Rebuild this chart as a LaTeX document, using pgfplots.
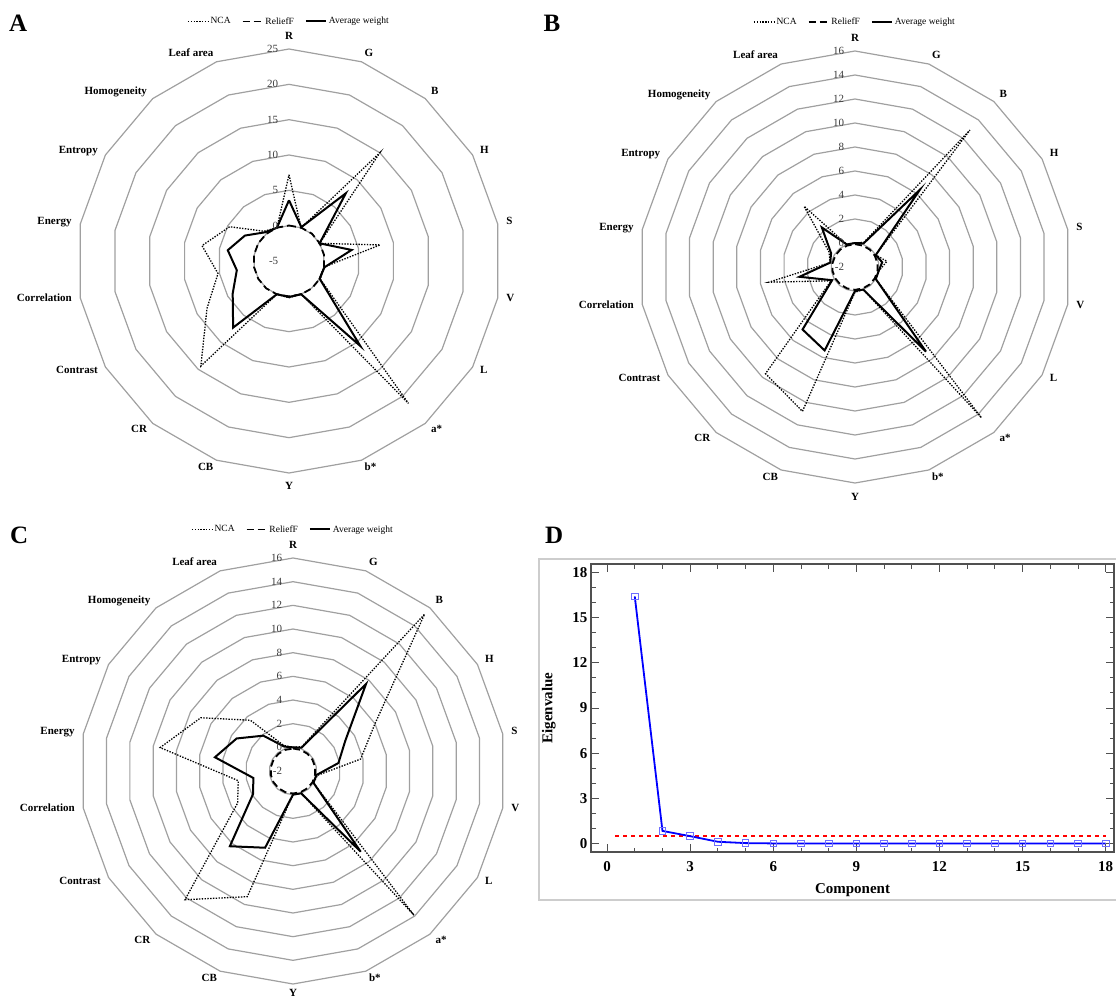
\documentclass[border=0pt]{standalone}
\usepackage{fontspec}
\setmainfont{Liberation Serif}
\usepackage{pgfplots}
\usepackage{pgfplotstable}
\pgfplotsset{compat=1.18}

\definecolor{ringgray}{RGB}{160,160,160}
\definecolor{tickgray}{RGB}{60,60,60}
\definecolor{framegray}{RGB}{205,205,205}
\definecolor{axgray}{RGB}{80,80,80}
\definecolor{markblue}{RGB}{110,110,255}

\pgfplotsset{
  radar/.style={
    hide axis, anchor=center, clip=false,
    xmin=-1, xmax=1, ymin=-1, ymax=1,
    legend columns=3,
    legend style={draw=none, fill=none, anchor=center,
      font=\fontsize{9.5}{11}\selectfont,
      /tikz/every even column/.append style={column sep=9pt}},
    legend image code/.code={\draw[##1] (0pt,0pt) -- (20pt,0pt);},
  },
  ncaline/.style={black, line width=1.3pt, dash pattern=on 1.4pt off 1.4pt},
  relline/.style={black, line width=1.8pt, dash pattern=on 7pt off 4pt},
  avgline/.style={black, line width=2pt},
  ring/.style={ringgray, line width=1.2pt, forget plot},
}
\tikzset{
  lab/.style={font=\bfseries\fontsize{11}{13}\selectfont, inner sep=0pt},
  ringlab/.style={font=\fontsize{11}{13}\selectfont, text=tickgray, inner sep=0pt, anchor=east},
  panel/.style={font=\bfseries\fontsize{25}{25}\selectfont, inner sep=0pt, anchor=base west},
}

% spoke angles, clockwise from the top (r = unit radius)
\pgfplotstableread{
a   r
0   1
20  1
40  1
60  1
80  1
100 1
120 1
140 1
160 1
180 1
200 1
220 1
240 1
260 1
280 1
300 1
320 1
340 1
360 1
}\angtab

% a = angle, nca / rel / avg = weights (R, G, B, H, S, V, L, a*, b*, Y, CB, CR, Contrast, Correlation, Energy, Entropy, Homogeneity, Leaf area)
\pgfplotstableread{
a   nca   rel   avg
0   7.2   0.02  3.6
20  0.0   0.03  0.1
40  15.0  0.05  7.5
60  0.0   0.02  0.0
80  8.1   0.03  4.0
100 0.0   0.02  0.1
120 0.1   0.03  0.0
140 21.3  0.05  10.7
160 0.0   0.02  0.0
180 0.2   0.01  0.1
200 0.0   0.02  0.0
220 14.4  0.04  7.3
240 8.4   0.03  4.2
260 5.2   0.02  2.5
280 7.5   0.03  3.8
300 4.7   0.02  2.2
320 0.5   0.01  0.3
340 0.0   0.02  0.0
360 7.2   0.02  3.6
}\dataA

\pgfplotstableread{
a   nca   rel   avg
0   0.0   -0.1  0.0
20  0.2   -0.1  0.1
40  12.9  -0.1  6.4
60  0.0   -0.1  0.0
80  0.7   -0.1  0.3
100 0.0   -0.1  0.0
120 0.0   -0.1  0.0
140 14.4  -0.1  7.2
160 0.0   -0.1  0.0
180 0.1   -0.1  0.0
200 10.8  -0.1  5.4
220 9.6   -0.1  4.8
240 0.3   -0.1  0.2
260 5.3   -0.1  2.7
280 0.1   -0.1  0.1
300 0.5   -0.1  0.3
320 4.6   -0.1  2.3
340 0.0   -0.1  0.0
360 0.0   -0.1  0.0
}\dataB

\pgfplotstableread{
a   nca   rel   avg
0   0.0   -0.1  0.0
20  0.2   -0.1  0.1
40  15.3  -0.1  7.6
60  6.0   -0.1  3.1
80  3.8   -0.1  1.9
100 0.1   -0.1  0.0
120 0.0   -0.1  0.0
140 13.9  -0.1  6.9
160 0.0   -0.1  0.0
180 0.0   -0.1  0.0
200 9.3   -0.1  4.9
220 12.2  -0.1  6.3
240 3.4   -0.1  1.9
260 2.7   -0.1  1.4
280 9.4   -0.1  4.7
300 7.0   -0.1  3.5
320 3.6   -0.1  1.9
340 0.3   -0.1  0.2
360 0.0   -0.1  0.0
}\dataC

% rings: #1 = number of rings
\newcommand{\radarrings}[1]{%
  \pgfplotsinvokeforeach{1,...,#1}{%
    \addplot[ring] table[x expr={##1/#1*\thisrow{r}*sin(\thisrow{a})}, y expr={##1/#1*\thisrow{r}*cos(\thisrow{a})}] {\angtab};}}
% ring values: #1 = rings, #2 = centre value, #3 = step
\newcommand{\ringlabels}[3]{%
  \pgfplotsinvokeforeach{0,...,#1}{%
    \node[ringlab] at (axis cs:-0.05,##1/#1) {\pgfmathparse{int(#2+##1*#3)}\pgfmathresult};}}
% series: #1 = table, #2 = -centre value, #3 = span
\newcommand{\radarplots}[3]{%
  \addplot[ncaline] table[x expr={(\thisrow{nca}+#2)/#3*sin(\thisrow{a})}, y expr={(\thisrow{nca}+#2)/#3*cos(\thisrow{a})}] {#1};
  \addplot[relline] table[x expr={(\thisrow{rel}+#2)/#3*sin(\thisrow{a})}, y expr={(\thisrow{rel}+#2)/#3*cos(\thisrow{a})}] {#1};
  \addplot[avgline] table[x expr={(\thisrow{avg}+#2)/#3*sin(\thisrow{a})}, y expr={(\thisrow{avg}+#2)/#3*cos(\thisrow{a})}] {#1};
  \legend{NCA, ReliefF, Average weight}}
% category names; #1 = distance of the bottom name (Y)
\newcommand{\catlabels}[1]{%
  \node[lab,anchor=south] at (axis cs:0,1.045) {R};
  \node[lab,anchor=mid west] at (axis cs:0.356,0.977) {G};
  \node[lab,anchor=mid west] at (axis cs:0.669,0.797) {B};
  \node[lab,anchor=mid west] at (axis cs:0.901,0.52) {H};
  \node[lab,anchor=mid west] at (axis cs:1.024,0.181) {S};
  \node[lab,anchor=mid west] at (axis cs:1.024,-0.181) {V};
  \node[lab,anchor=mid west] at (axis cs:0.901,-0.52) {L};
  \node[lab,anchor=mid west] at (axis cs:0.669,-0.797) {a*};
  \node[lab,anchor=mid west] at (axis cs:0.356,-0.977) {b*};
  \node[lab,anchor=north] at (axis cs:0,-#1) {Y};
  \node[lab,anchor=mid east] at (axis cs:-0.356,-0.977) {CB};
  \node[lab,anchor=mid east] at (axis cs:-0.669,-0.797) {CR};
  \node[lab,anchor=mid east] at (axis cs:-0.901,-0.52) {Contrast};
  \node[lab,anchor=mid east] at (axis cs:-1.024,-0.181) {Correlation};
  \node[lab,anchor=mid east] at (axis cs:-1.024,0.181) {Energy};
  \node[lab,anchor=mid east] at (axis cs:-0.901,0.52) {Entropy};
  \node[lab,anchor=mid east] at (axis cs:-0.669,0.797) {Homogeneity};
  \node[lab,anchor=mid east] at (axis cs:-0.356,0.977) {Leaf area};}

\begin{document}
\begin{tikzpicture}
\path[use as bounding box] (0pt,0pt) rectangle (1116pt,-1001pt);

% A
\begin{axis}[radar, at={(289pt,-261pt)}, x=212pt, y=212pt,
  legend style={at={(0.5,1.065)}}]
\radarrings{6}
\radarplots{\dataA}{5}{30}
\ringlabels{6}{-5}{5}
\catlabels{1.045}
\end{axis}

% B
\begin{axis}[radar, at={(855pt,-267pt)}, x=216pt, y=216pt,
  legend style={at={(0.5,1.067)}}]
\radarrings{9}
\radarplots{\dataB}{2}{18}
\ringlabels{9}{-2}{2}
\catlabels{1.045}
\end{axis}

% C
\begin{axis}[radar, at={(293pt,-771pt)}, x=213pt, y=213pt,
  legend style={at={(0.5,1.067)}}]
\radarrings{9}
\radarplots{\dataC}{2}{18}
\ringlabels{9}{-2}{2}
\catlabels{1.025}
\end{axis}

% D
\draw[framegray, line width=1.5pt] (539pt,-559pt) rectangle (1140pt,-900pt);
\begin{axis}[at={(591pt,-852pt)}, anchor=south west, scale only axis,
  width=523pt, height=288pt,
  xmin=-0.58, xmax=18.3, ymin=-0.55, ymax=18.55,
  xtick={0,3,...,18}, ytick={0,3,...,18},
  minor x tick num=2, minor y tick num=2,
  tick align=inside, major tick length=8pt, minor tick length=4.5pt,
  axis line style={axgray, line width=1.2pt},
  tick style={axgray, line width=0.9pt},
  ticklabel style={font=\bfseries\fontsize{15}{15}\selectfont},
  xticklabel style={yshift=-6pt},
  /pgf/number format/assume math mode=true,
  xlabel={Component}, ylabel={Eigenvalue},
  label style={font=\bfseries\fontsize{15}{15}\selectfont},
  xlabel style={yshift=-5pt},
  ylabel style={yshift=10pt},
]
\addplot[red, line width=2.5pt, dash pattern=on 4pt off 4pt] coordinates {(0.3,0.5) (18,0.5)};
\addplot[blue, line width=1.8pt, mark=square, mark size=3.3pt,
  mark options={solid, draw=markblue, line width=0.8pt, fill=none}] coordinates {
  (1,16.4) (2,0.85) (3,0.5) (4,0.13) (5,0.04) (6,0.02) (7,0.02) (8,0.02) (9,0.01)
  (10,0.01) (11,0.01) (12,0.01) (13,0.01) (14,0.01) (15,0.01) (16,0.01) (17,0.01) (18,0.01)
};
\end{axis}

\node[panel] at (9pt,-31.5pt) {A};
\node[panel] at (543.5pt,-31.5pt) {B};
\node[panel] at (10pt,-543pt) {C};
\node[panel] at (545pt,-543pt) {D};
\end{tikzpicture}
\end{document}
